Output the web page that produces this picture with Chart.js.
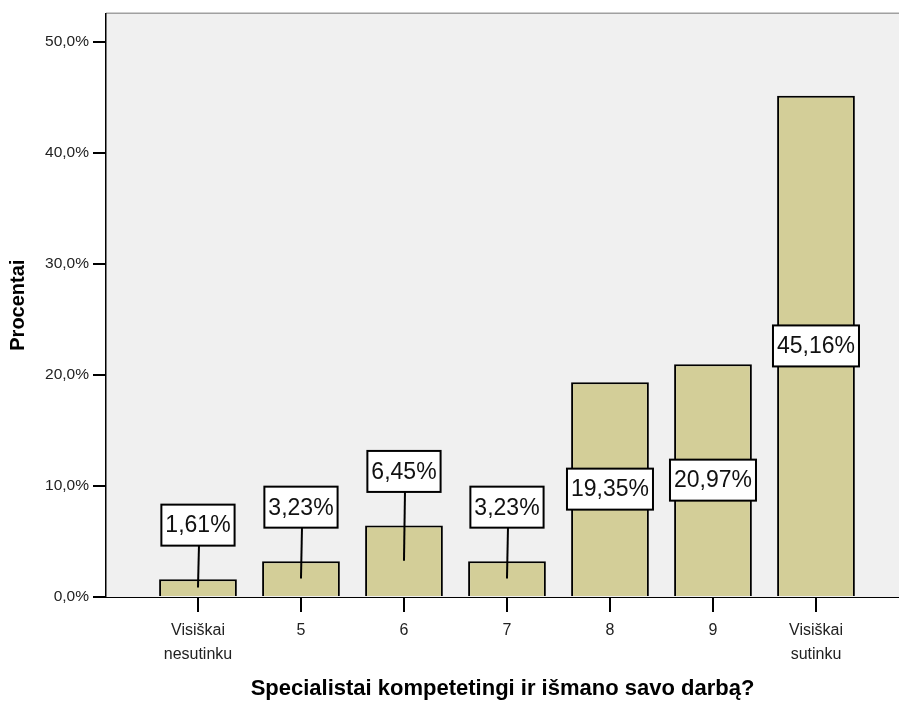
<!DOCTYPE html>
<html lang="lt">
<head>
<meta charset="UTF-8">
<title>Specialistai kompetetingi ir išmano savo darbą?</title>
<script src="https://cdn.jsdelivr.net/npm/chart.js@4.4.1/dist/chart.umd.min.js"></script>
<style>
  html, body { margin: 0; padding: 0; background: #fff; }
  #wrap { width: 899px; height: 702px; position: relative; }
</style>
</head>
<body>
<div id="wrap"><canvas id="chart"></canvas></div>
<script>
// data
const categories = [['Visiškai', 'nesutinku'], '5', '6', '7', '8', '9', ['Visiškai', 'sutinku']];
const percents = [1.61, 3.23, 6.45, 3.23, 19.35, 20.97, 45.16];
const yTicks = [0, 10, 20, 30, 40, 50];

const FONT = '"Liberation Sans", Arial, sans-serif';
const fmt = v => v.toFixed(1).replace('.', ',') + '%';

// grey plot background + top frame line
const plotBg = {
  id: 'plotBg',
  beforeDraw(chart) {
    const { ctx, chartArea: a } = chart;
    ctx.save();
    ctx.fillStyle = '#f0f0f0';
    ctx.fillRect(a.left, a.top, a.right - a.left, a.bottom - a.top);
    ctx.strokeStyle = '#a0a0a0';
    ctx.lineWidth = 1.5;
    ctx.beginPath();
    ctx.moveTo(a.left, a.top);
    ctx.lineTo(a.right, a.top);
    ctx.stroke();
    ctx.restore();
  }
};

// boxed value labels, SPSS style
const boxLabels = {
  id: 'boxLabels',
  afterDatasetsDraw(chart) {
    const { ctx } = chart;
    const meta = chart.getDatasetMeta(0);
    ctx.save();
    ctx.font = '23px ' + FONT;
    ctx.textAlign = 'center';
    ctx.textBaseline = 'middle';
    meta.data.forEach((bar, i) => {
      const text = percents[i].toFixed(2).replace('.', ',') + '%';
      const w = ctx.measureText(text).width + 8;
      const h = 41;
      const barH = bar.base - bar.y;
      let cy;
      if (barH > 120) {
        cy = (bar.y + bar.base) / 2;
      } else {
        cy = bar.y - 54;
        ctx.strokeStyle = '#000';
        ctx.lineWidth = 2;
        ctx.beginPath();
        ctx.moveTo(bar.x + 1, cy + h / 2);
        ctx.lineTo(bar.x, (bar.y + bar.base) / 2);
        ctx.stroke();
      }
      ctx.fillStyle = '#fff';
      ctx.fillRect(bar.x - w / 2, cy - h / 2, w, h);
      ctx.strokeStyle = '#000';
      ctx.lineWidth = 2;
      ctx.strokeRect(bar.x - w / 2, cy - h / 2, w, h);
      ctx.fillStyle = '#111';
      ctx.fillText(text, bar.x, cy + 1);
    });
    ctx.restore();
  }
};

new Chart(document.getElementById('chart'), {
  type: 'bar',
  data: {
    datasets: [{
      data: percents.map((v, i) => ({ x: i, y: v })),
      backgroundColor: '#d3ce98',
      borderColor: '#000',
      borderWidth: 2,
      barPercentage: 0.755,
      categoryPercentage: 1
    }]
  },
  options: {
    responsive: true,
    maintainAspectRatio: false,
    animation: false,
    layout: { padding: { top: 13, right: 0, left: 0, bottom: 0 } },
    plugins: { legend: { display: false }, tooltip: { enabled: false } },
    scales: {
      x: {
        type: 'linear',
        offset: false,
        min: -0.893,
        max: 6.806,
        afterBuildTicks: s => { s.ticks = categories.map((c, i) => ({ value: i })); },
        afterFit: s => { s.height = 105; },
        ticks: {
          autoSkip: false,
          maxRotation: 0,
          padding: 7,
          color: '#222',
          font: { family: FONT, size: 16, lineHeight: 1.5 },
          callback: v => categories[v]
        },
        grid: { offset: false, drawOnChartArea: false, drawTicks: true, tickLength: 15, color: '#000', lineWidth: 2 },
        border: { color: '#000', width: 1 },
        title: {
          display: true,
          text: 'Specialistai kompetetingi ir išmano savo darbą?',
          color: '#000',
          font: { family: FONT, size: 22, weight: 'bold' },
          padding: { top: 0, bottom: 0 }
        }
      },
      y: {
        min: 0,
        max: 52.6,
        afterBuildTicks: s => { s.ticks = yTicks.map(v => ({ value: v })); },
        afterFit: s => { s.width = 106; },
        ticks: {
          padding: 4,
          color: '#222',
          font: { family: FONT, size: 15.5 },
          callback: v => fmt(v)
        },
        grid: { drawOnChartArea: false, drawTicks: true, tickLength: 13, color: '#000', lineWidth: 2 },
        border: { color: '#000', width: 1.5 },
        title: {
          display: true,
          text: 'Procentai',
          color: '#000',
          font: { family: FONT, size: 20, weight: 'bold' },
          padding: { top: 6, bottom: 0 }
        }
      }
    }
  },
  plugins: [plotBg, boxLabels]
});
</script>
</body>
</html>
